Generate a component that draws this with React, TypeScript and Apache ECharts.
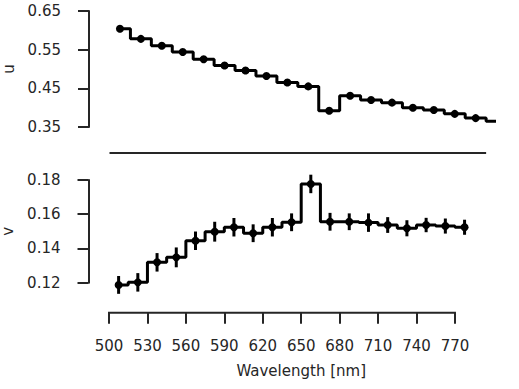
import React, { useEffect, useRef } from "react";
import * as echarts from "echarts";

const wavelengths = [
  507.5, 522.5, 537.5, 552.5, 567.5, 582.5, 597.5, 612.5, 627.5, 642.5,
  657.5, 672.5, 687.5, 702.5, 717.5, 732.5, 747.5, 762.5, 777.5,
];
const uValues = [
  0.604, 0.578, 0.56, 0.544, 0.525, 0.509, 0.496, 0.482, 0.465, 0.455,
  0.392, 0.431, 0.42, 0.413, 0.4, 0.394, 0.384, 0.373, 0.365,
];
const vValues = [
  0.1187, 0.1202, 0.1319, 0.1348, 0.1445, 0.1498, 0.1524, 0.1489, 0.1524, 0.1553,
  0.1777, 0.1556, 0.1556, 0.1551, 0.1537, 0.1518, 0.1537, 0.1531, 0.1524,
];
const vErrors = [
  0.0052, 0.0054, 0.0054, 0.0058, 0.0054, 0.0058, 0.0054, 0.0052, 0.0054, 0.0052,
  0.0054, 0.0052, 0.0049, 0.0054, 0.0046, 0.0047, 0.0042, 0.0044, 0.0044,
];
const xTicks = [500, 530, 560, 590, 620, 650, 680, 710, 740, 770];
const uTicks = [0.35, 0.45, 0.55, 0.65];
const vTicks = [0.12, 0.14, 0.16, 0.18];

const TEXT = "#262626";
const FONT = "DejaVu Sans";

export default function App() {
  const ref = useRef<HTMLDivElement>(null);
  useEffect(() => {
    if (!ref.current) return;
    const chart = echarts.init(ref.current, null, { renderer: "svg" });
    const axisCommonY = (gridIndex: number, min: number, max: number, ticks: number[], name: string) => ({
      gridIndex,
      type: "value",
      min,
      max,
      offset: 20.5,
      axisLine: { show: true, lineStyle: { color: TEXT, width: 2 } },
      axisTick: { show: true, length: 11, customValues: ticks, lineStyle: { color: TEXT, width: 2 } },
      axisLabel: {
        customValues: ticks,
        formatter: (v: number) => v.toFixed(2),
        color: TEXT,
        fontFamily: FONT,
        fontSize: 15,
        margin: 28,
      },
      splitLine: { show: false },
      name,
      nameLocation: "middle",
      nameRotate: 90,
      nameGap: 73,
      nameTextStyle: { color: TEXT, fontFamily: FONT, fontSize: 15 },
    });
    const option: any = {
      animation: false,
      grid: [
        { left: 109.5, top: 11, width: 385, height: 116, outerBoundsMode: "none", containLabel: false },
        { left: 109, top: 180, width: 384.4, height: 102.7, outerBoundsMode: "none", containLabel: false },
      ],
      xAxis: [
        {
          gridIndex: 0,
          type: "value",
          min: 500,
          max: 776,
          axisLine: { show: false },
          axisTick: { show: false },
          axisLabel: { show: false },
          splitLine: { show: false },
        },
        {
          gridIndex: 1,
          type: "value",
          min: 500,
          max: 800,
          offset: 30,
          axisLine: { show: false },
          axisTick: { show: true, length: 11, customValues: xTicks, lineStyle: { color: TEXT, width: 2 } },
          axisLabel: {
            customValues: xTicks,
            color: TEXT,
            fontFamily: FONT,
            fontSize: 15,
            margin: 26,
          },
          splitLine: { show: false },
          name: "Wavelength [nm]",
          nameLocation: "middle",
          nameGap: 51,
          nameTextStyle: { color: TEXT, fontFamily: FONT, fontSize: 15 },
        },
      ],
      yAxis: [
        axisCommonY(0, 0.35, 0.65, uTicks, "u"),
        axisCommonY(1, 0.12, 0.18, vTicks, "v"),
      ],
      series: [
        {
          type: "line",
          xAxisIndex: 0,
          yAxisIndex: 0,
          step: "middle",
          data: wavelengths.map((w, i) => [w, uValues[i]]),
          symbol: "circle",
          symbolSize: 8,
          showAllSymbol: true,
          lineStyle: { color: "#000", width: 3 },
          itemStyle: { color: "#000" },
          clip: true,
        },
        {
          type: "line",
          xAxisIndex: 1,
          yAxisIndex: 1,
          step: "middle",
          data: wavelengths.map((w, i) => [w, vValues[i]]),
          symbol: "circle",
          symbolSize: 8,
          showAllSymbol: true,
          lineStyle: { color: "#000", width: 3 },
          itemStyle: { color: "#000" },
          clip: false,
        },
        {
          type: "custom",
          xAxisIndex: 1,
          yAxisIndex: 1,
          clip: false,
          z: 5,
          data: wavelengths.map((w, i) => [w, vValues[i], vErrors[i]]),
          encode: { x: 0, y: 1 },
          renderItem: (params: any, api: any) => {
            const x = api.value(0);
            const y = api.value(1);
            const e = api.value(2);
            const a = api.coord([x, y + e]);
            const b = api.coord([x, y - e]);
            return {
              type: "line",
              shape: { x1: a[0], y1: a[1], x2: b[0], y2: b[1] },
              style: { stroke: "#000", lineWidth: 3 },
            };
          },
        },
      ],
    };
    chart.setOption(option);
    const t0 = chart.convertToPixel({ xAxisIndex: 0 }, xTicks[0]) as number;
    const t1 = chart.convertToPixel({ xAxisIndex: 0 }, xTicks[xTicks.length - 1]) as number;
    const yTopBase = (chart.convertToPixel({ yAxisIndex: 0 }, uTicks[0]) as number) + 26;
    const b0 = chart.convertToPixel({ xAxisIndex: 1 }, xTicks[0]) as number;
    const b1 = chart.convertToPixel({ xAxisIndex: 1 }, xTicks[xTicks.length - 1]) as number;
    const yBotBase = (chart.convertToPixel({ yAxisIndex: 1 }, vTicks[0]) as number) + 30;
    chart.setOption({
      graphic: [
        {
          type: "line",
          shape: { x1: t0, y1: yTopBase, x2: t1, y2: yTopBase },
          style: { stroke: TEXT, lineWidth: 2 },
        },
        {
          type: "line",
          shape: { x1: b0 - 1, y1: yBotBase, x2: b1 + 1, y2: yBotBase },
          style: { stroke: TEXT, lineWidth: 2 },
        },
      ],
    });
    return () => chart.dispose();
  }, []);
  return (
    <div
      ref={ref}
      style={{ position: "fixed", left: 0, top: 0, width: 519, height: 389, background: "#fff" }}
    />
  );
}
